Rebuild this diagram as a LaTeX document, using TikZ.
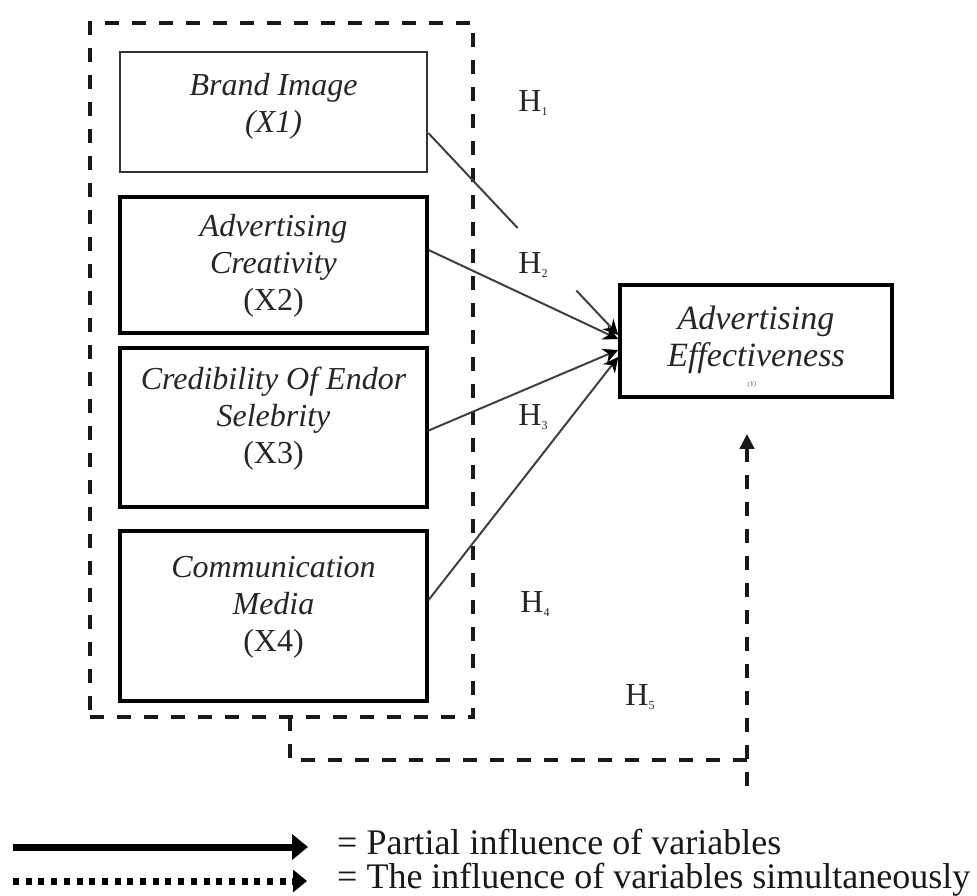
\documentclass[tikz,border=0pt]{standalone}
\usepackage{fontspec}
\setmainfont{Liberation Serif}
\usepackage{graphicx}
\usetikzlibrary{arrows.meta,calc}
\begin{document}
\begin{tikzpicture}[x=1pt,y=-1pt,
  box/.style={draw=black,line width=3.2pt,minimum width=307pt,inner sep=0pt},
  lbl/.style={font=\fontsize{32}{37}\selectfont\itshape,align=center,text=black!85},
  hyp/.style={font=\fontsize{32}{37}\selectfont,text=black!85},
  conn/.style={draw=black!75,line width=2pt},
  tipA/.style={-{Stealth[length=15pt,width=15pt,black]}},
  grpline/.style={draw=black!90,line width=4pt,dash pattern=on 14pt off 13pt},
  legtext/.style={font=\fontsize{36}{38}\selectfont,text=black!90,anchor=west,inner sep=0pt}
]
\useasboundingbox (0,0) rectangle (977,895);

% group dashed box
\node[grpline,minimum width=383pt,minimum height=694pt,inner sep=0pt] (grp) at (281.5,370) {};

% variable boxes
\node[box,draw=black!80,line width=2.6pt,minimum height=120pt] (b1) at (273.5,112) {};
\node[box,minimum height=136pt] (b2) at (273.5,265) {};
\node[box,minimum height=159pt] (b3) at (273.5,427.5) {};
\node[box,minimum height=170pt] (b4) at (273.5,616) {};

\node[lbl] (t1) at (273.5,106) {Brand Image\\(X1)};
\node[lbl] (t2) at (273.5,266) {Advertising\\Creativity\\\upshape (X2)};
\node[lbl] (t3) at (273.5,419) {Credibility Of Endor\\Selebrity\\\upshape (X3)};
\node[lbl] (t4) at (273.5,607) {Communication\\Media\\\upshape (X4)};

% dependent variable
\node[draw=black,line width=3.6pt,minimum width=272pt,minimum height=112pt,inner sep=0pt] (ae) at (756,341) {};
\node[lbl,font=\fontsize{34}{37}\selectfont\itshape] (tae) at (756,340) {Advertising\\Effectiveness};
\node[font=\fontsize{7}{7}\selectfont\itshape,text=black!60] (ysm) at (752,385) {(Y)};

% connectors
\coordinate (s1) at ($(b1.east)+(0,21)$);
\coordinate (e1) at ($(ae.west)+(0,-6)$);
\coordinate (g1) at ($(s1)!0.47!(e1)$);
\coordinate (g2) at ($(s1)!0.78!(e1)$);
\draw[conn] (s1) -- (g1);
\draw[conn,tipA] (g2) -- (e1);
\draw[conn,tipA] ($(b2.east)+(0,-15)$) -- ($(ae.west)+(0,-2)$);
\draw[conn,tipA] ($(b3.east)+(0,3)$) -- ($(ae.west)+(0,9)$);
\draw[conn,tipA] ($(b4.east)+(0,-16)$) -- ($(ae.west)+(0,16)$);

% hypothesis labels
\node[hyp] (h1) at (533,103) {H\raisebox{-4pt}{\fontsize{12}{12}\selectfont 1}};
\node[hyp] (h2) at (533,265) {H\raisebox{-4pt}{\fontsize{12}{12}\selectfont 2}};
\node[hyp] (h3) at (533,417) {H\raisebox{-4pt}{\fontsize{12}{12}\selectfont 3}};
\node[hyp] (h4) at (535,604) {H\raisebox{-4pt}{\fontsize{12}{12}\selectfont 4}};
\node[hyp] (h5) at (640,697) {H\raisebox{-4pt}{\fontsize{12}{12}\selectfont 5}};

% simultaneous influence path
\coordinate (d0) at (290,717);
\coordinate (d1) at (290,760);
\coordinate (d2) at (747,760);
\coordinate (d3) at (747,786);
\draw[grpline] (d0) -- (d1) -- (d2);
\draw[grpline,-{Triangle[length=15pt,width=14pt]}] (d3) -- ($(ae.south -| d3)+(0,35)$);

% legend
\node[legtext] (l1) at (337,842) {= Partial influence of variables};
\node[legtext] (l2) at (337,880) {= The influence of variables simultaneously};
\coordinate (la) at (13,847);
\coordinate (lb) at (13,881);
\draw[line width=7pt,-{Triangle[length=16pt,width=25pt]}] (la) -- ($(l1.west |- la)+(-29,0)$);
\draw[line width=7pt,dash pattern=on 6pt off 6.7pt,-{Triangle[length=14pt,width=22pt]}] (lb) -- ($(l2.west |- lb)+(-30,0)$);
\end{tikzpicture}
\end{document}
